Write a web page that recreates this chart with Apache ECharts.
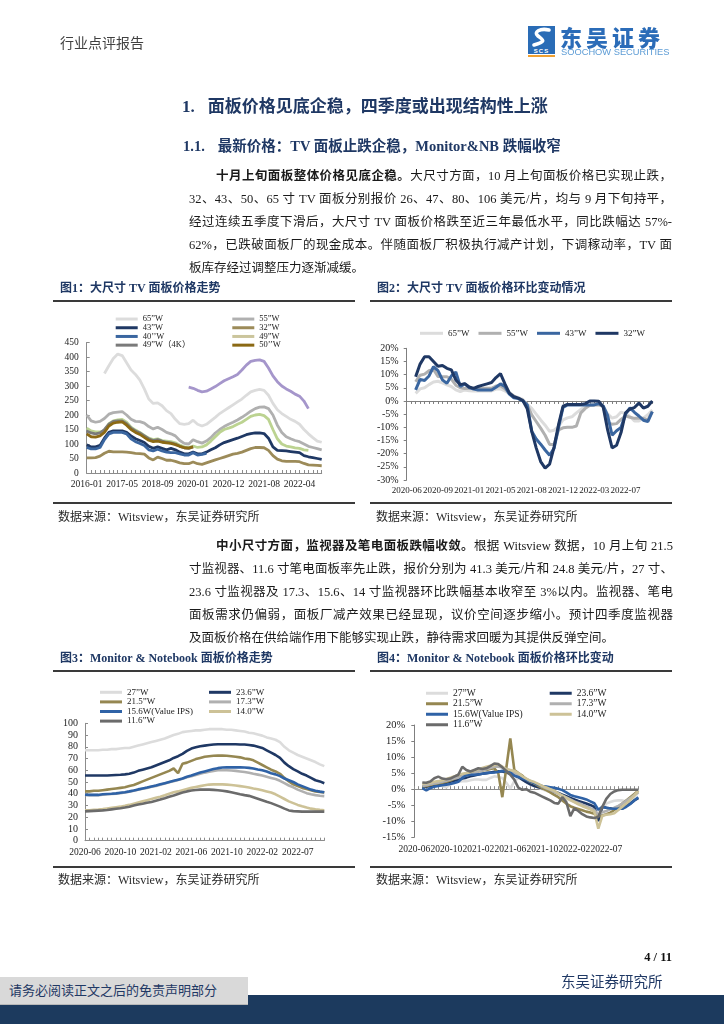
<!DOCTYPE html>
<html>
<head>
<meta charset="utf-8">
<script src="https://cdn.jsdelivr.net/npm/echarts@6.0.0/dist/echarts.min.js"></script>
<style>
html,body{margin:0;padding:0;background:#fff;}
body{width:724px;height:1024px;position:relative;overflow:hidden;font-family:'Liberation Serif','Noto Sans CJK SC',serif;color:#1a1a1a;}
.abs{position:absolute;white-space:nowrap;}
.chart{position:absolute;left:0;top:0;width:724px;height:1024px;}
.ln{position:absolute;height:22.9px;line-height:22.9px;font-size:12.5px;text-align:justify;text-align-last:justify;}
.ln.last{text-align:left;text-align-last:left;}
.rule{position:absolute;height:2px;background:#3a3a3a;}
.figt{position:absolute;white-space:nowrap;font-size:12px;line-height:15px;font-weight:700;color:#1f3864;}
.src{position:absolute;white-space:nowrap;font-size:12px;line-height:14px;color:#2a2a2a;}
b{font-weight:700;}
</style>
</head>
<body>
<div id="c1" class="chart"></div>
<div id="c2" class="chart"></div>
<div id="c3" class="chart"></div>
<div id="c4" class="chart"></div>

<!-- header -->
<div class="abs" style="left:60px;top:35px;font-size:14px;line-height:17px;color:#404040;">行业点评报告</div>
<div class="abs" style="left:528px;top:26px;width:27px;height:22px;background:#2a6cb6;">
  <svg width="27" height="22" viewBox="0 0 27 22"><path d="M21 4 C 12 2, 5 6, 10 10 S 19 15, 6 19" stroke="#fff" stroke-width="3.6" fill="none" stroke-linecap="round"/></svg>
</div>
<div class="abs" style="left:528px;top:48px;width:27px;height:6px;background:#2a6cb6;color:#fff;font-family:'Liberation Sans',sans-serif;font-weight:700;font-size:6px;line-height:6px;text-align:center;letter-spacing:1px;">SCS</div>
<div class="abs" style="left:528px;top:54.5px;width:27px;height:2px;background:#f0a030;"></div>
<div class="abs" style="left:560px;top:24px;font-family:'Noto Sans CJK SC',sans-serif;font-weight:900;font-size:22px;line-height:24px;letter-spacing:4px;color:#2b6cb8;">东吴证券</div>
<div class="abs" style="left:561px;top:47px;font-family:'Liberation Sans',sans-serif;font-size:9.3px;line-height:10px;color:#5b9bd5;">SOOCHOW SECURITIES</div>

<!-- headings -->
<div class="abs" style="left:182px;top:96px;font-size:17px;line-height:21px;font-weight:700;color:#1f3864;">1.<span style="margin-left:13px">面板价格见底企稳，四季度或出现结构性上涨</span></div>
<div class="abs" style="left:183px;top:137px;font-size:14.5px;line-height:18px;font-weight:700;color:#1f3864;">1.1.<span style="margin-left:13px">最新价格：TV 面板止跌企稳，Monitor&amp;NB 跌幅收窄</span></div>

<!-- paragraph 1 -->
<div class="ln" style="left:216px;width:456px;top:165.2px;"><b>十月上旬面板整体价格见底企稳。</b>大尺寸方面，10 月上旬面板价格已实现止跌，</div>
<div class="ln" style="left:189px;width:483px;top:188.1px;">32、43、50、65 寸 TV 面板分别报价 26、47、80、106 美元/片，均与 9 月下旬持平，</div>
<div class="ln" style="left:189px;width:483px;top:211px;">经过连续五季度下滑后，大尺寸 TV 面板价格跌至近三年最低水平，同比跌幅达 57%-</div>
<div class="ln" style="left:189px;width:483px;top:233.9px;">62%，已跌破面板厂的现金成本。伴随面板厂积极执行减产计划，下调稼动率，TV 面</div>
<div class="ln last" style="left:189px;width:483px;top:256.8px;">板库存经过调整压力逐渐减缓。</div>

<!-- figure 1/2 titles -->
<div class="figt" style="left:60px;top:281px;">图1：大尺寸 TV 面板价格走势</div>
<div class="figt" style="left:377px;top:281px;">图2：大尺寸 TV 面板价格环比变动情况</div>
<div class="rule" style="left:52.7px;width:302.3px;top:299.7px;"></div>
<div class="rule" style="left:369.5px;width:302.5px;top:299.7px;"></div>
<div class="rule" style="left:52.7px;width:302.3px;top:502px;"></div>
<div class="rule" style="left:369.5px;width:302.5px;top:502px;"></div>
<div class="src" style="left:58px;top:509.7px;">数据来源：Witsview，东吴证券研究所</div>
<div class="src" style="left:376px;top:509.7px;">数据来源：Witsview，东吴证券研究所</div>

<!-- paragraph 2 -->
<div class="ln" style="left:216px;width:457px;top:535px;"><b>中小尺寸方面，监视器及笔电面板跌幅收敛。</b>根据 Witsview 数据，10 月上旬 21.5</div>
<div class="ln" style="left:189px;width:484px;top:557.9px;">寸监视器、11.6 寸笔电面板率先止跌，报价分别为 41.3 美元/片和 24.8 美元/片，27 寸、</div>
<div class="ln" style="left:189px;width:484px;top:580.8px;">23.6 寸监视器及 17.3、15.6、14 寸监视器环比跌幅基本收窄至 3%以内。监视器、笔电</div>
<div class="ln" style="left:189px;width:484px;top:603.7px;">面板需求仍偏弱，面板厂减产效果已经显现，议价空间逐步缩小。预计四季度监视器</div>
<div class="ln last" style="left:189px;width:484px;top:626.6px;">及面板价格在供给端作用下能够实现止跌，静待需求回暖为其提供反弹空间。</div>

<!-- figure 3/4 titles -->
<div class="figt" style="left:60px;top:650.5px;">图3：Monitor &amp; Notebook 面板价格走势</div>
<div class="figt" style="left:377px;top:650.5px;">图4：Monitor &amp; Notebook 面板价格环比变动</div>
<div class="rule" style="left:52.7px;width:302.3px;top:670px;"></div>
<div class="rule" style="left:369.5px;width:302.5px;top:670px;"></div>
<div class="rule" style="left:52.7px;width:302.3px;top:866px;"></div>
<div class="rule" style="left:369.5px;width:302.5px;top:866px;"></div>
<div class="src" style="left:58px;top:873px;">数据来源：Witsview，东吴证券研究所</div>
<div class="src" style="left:376px;top:873px;">数据来源：Witsview，东吴证券研究所</div>

<!-- footer -->
<div class="abs" style="right:52px;top:949px;font-size:12.5px;line-height:16px;font-weight:700;color:#111;">4 / 11</div>
<div class="abs" style="left:0;top:995px;width:724px;height:29px;background:#1c3a5e;"></div>
<div class="abs" style="left:0;top:977px;width:248px;height:27px;background:#d9d9d9;border-bottom:1px solid #b8b8b8;"></div>
<div class="abs" style="left:9px;top:983px;font-size:13px;line-height:16px;color:#1f3864;">请务必阅读正文之后的免责声明部分</div>
<div class="abs" style="left:561px;top:972.5px;font-size:14.5px;line-height:18px;color:#1f3864;">东吴证券研究所</div>

<script>
// ---------- Figure 1: large-size TV panel prices (US$) ----------
const c1Dates = ['2016-01','2016-03','2016-05','2016-07','2016-09','2016-11','2017-01','2017-03','2017-05','2017-07',
 '2017-09','2017-11','2018-01','2018-03','2018-05','2018-07','2018-09','2018-11','2019-01','2019-03',
 '2019-05','2019-07','2019-09','2019-11','2020-01','2020-03','2020-04','2020-06','2020-07','2020-08',
 '2020-09','2020-11','2020-12','2021-01','2021-02','2021-03','2021-04','2021-05','2021-06','2021-07',
 '2021-08','2021-09','2021-10','2021-11','2021-12','2022-01','2022-02','2022-03','2022-04','2022-05',
 '2022-06','2022-07','2022-08','2022-09'];
const tv65 = [null,null,null,null,343,370,395,410,405,380,355,340,320,290,255,240,242,232,215,205,185,170,168,170,182,168,162,168,180,192,205,215,225,235,245,255,268,280,285,288,285,268,240,218,205,195,185,178,168,150,135,122,110,106];
const tv55 = [200,180,175,178,188,203,208,210,212,200,185,178,177,172,160,152,158,150,140,135,128,112,102,100,115,108,103,110,122,138,150,160,168,175,183,192,202,213,222,227,228,222,200,165,140,125,118,112,108,100,92,88,84,80];
const tv43 = [97,90,90,95,120,140,145,145,145,140,128,118,112,105,92,85,90,85,80,85,80,72,66,66,72,66,66,72,80,87,97,105,110,115,120,126,132,136,138,138,136,120,90,78,77,76,74,72,70,60,56,53,50,47];
const tv32 = [52,52,53,58,68,75,73,73,73,72,70,68,67,65,52,45,55,50,44,44,40,35,32,32,38,32,30,35,40,45,50,55,60,65,68,72,78,84,88,88,87,78,60,48,42,40,40,40,39,33,28,27,26,25];
const tv40 = [88,83,83,88,115,135,140,140,140,135,118,108,102,95,80,76,82,76,72,70,70,66,62,62,70,62,64,68,null,null,null,null,null,null,null,null,null,null,null,null,null,null,null,null,null,null,null,null,null,null,null,null,null,null];
const tv49 = [155,145,142,142,145,170,180,183,185,175,158,148,140,130,120,115,118,112,110,108,104,96,90,88,93,88,90,97,110,125,140,150,155,160,168,175,185,195,200,202,198,185,150,118,100,93,90,87,85,80,78,null,null,null];
const tv49k = [145,138,135,138,150,168,178,180,180,170,155,145,138,128,118,112,115,110,106,104,100,92,87,85,90,null,null,null,null,null,null,null,null,null,null,null,null,null,null,null,null,null,null,null,null,null,null,null,null,null,null,null,null,null];
const tv50 = [135,125,124,128,140,162,172,175,176,165,150,140,133,123,113,108,110,106,104,102,98,92,87,86,90,null,null,null,null,null,null,null,null,null,null,null,null,null,null,null,null,null,null,null,null,null,null,null,null,null,null,null,null,null];
const tvPurple = [null,null,null,null,null,null,null,null,null,null,null,null,null,null,null,null,null,null,null,null,null,null,null,296,292,285,280,282,290,298,308,318,325,332,340,355,372,385,388,390,385,362,335,315,300,290,282,272,265,248,222,null,null,null];

// ---------- Figure 2: TV panel price MoM change (%) ----------
const c2Dates = ['2020-06-01','2020-06-16','2020-07-01','2020-07-16','2020-08-01','2020-08-16','2020-08-24',
 '2020-09-01','2020-09-16','2020-10-01','2020-10-16','2020-11-01','2020-11-16','2020-12-16',
 '2021-01-01','2021-01-16','2021-02-01','2021-02-16','2021-03-16','2021-04-01','2021-04-16',
 '2021-05-01','2021-05-16','2021-06-01','2021-06-16','2021-07-01','2021-07-16','2021-07-24',
 '2021-08-01','2021-08-16','2021-09-01','2021-09-16','2021-10-16','2021-11-01','2021-11-16',
 '2021-12-01','2021-12-16','2022-01-01','2022-01-16','2022-02-01','2022-02-16','2022-02-24',
 '2022-03-01','2022-03-16','2022-04-01','2022-04-16','2022-05-16','2022-06-01','2022-06-16',
 '2022-07-01','2022-07-16','2022-08-01','2022-08-16','2022-09-01','2022-09-16','2022-10-01'];
const mom65 = [null,null,2.9,4.6,5,6.2,7.2,7.5,6.9,6.1,5.5,4.2,3.6,4.2,3.9,3.8,3.8,3.8,3.8,3.8,4.5,4.6,3.8,2.8,1.8,1.3,0.6,-1.3,-2.8,-5,-7.2,-9.2,-11.5,-11.1,-9.7,-7.2,-6.4,-6,-4.5,-3.2,-2.2,-1.7,-1.4,-1.3,-1.9,-4.9,-6.5,-6,-4.2,-4.8,-5.9,-7.6,-7.6,-6.5,-5.2,-3.4];
const mom55 = [null,null,7.3,9.8,10.2,11.5,12,9.3,9.2,9.2,8.3,6,5,4.7,4.8,4.8,4.8,4.8,4.8,4.8,5.7,5.8,4.6,3.1,1.9,1,0.3,-1.5,-5.3,-7.8,-10.3,-13,-16.5,-16.5,-11,-10.2,-10,-10,-9.5,-4.5,-2.8,-1.6,-1.5,-1.5,-2,-8.3,-8.8,-8.6,-7,-5.7,-6.2,-6.6,-6.6,-6.6,-7.2,-4];
const mom43 = [null,null,4.2,8.2,7.8,9.5,13,11.5,8,6.7,9.5,11,5.5,6.5,5.1,4.5,4.2,4.2,4.2,4.2,5.2,6.5,5.5,2.6,1.2,0.9,0,-1.5,-11.5,-14.4,-16.4,-18.6,-20.6,-18,-10,-2.5,-1.5,-1.5,-1.5,-1.5,-1.5,-1.5,-1.5,-1,-1.9,-5.5,-13,-11.3,-10,-5,-2.6,-4.3,-5.7,-7.3,-7.8,-4];
const mom32 = [null,null,9.2,14,16.8,16.8,15,13.2,13.5,12.4,11.8,8,6.2,6.6,5.3,4.8,5.5,6,6.5,7,8.9,10.4,6.5,3,1.6,1.1,0.2,-3,-11.5,-17.8,-23,-25.5,-24,-17.5,-9,-2,-1.3,-1.3,-1.3,-1.3,-1,0,0,-0.1,-2.3,-11,-17.8,-16.8,-12,-4.5,-3,-2.5,-0.8,-2.7,-2,0];

// ---------- Figure 3: Monitor & Notebook panel prices (US$) ----------
const c3Dates = ['2020-06-01','2020-06-16','2020-07-01','2020-07-16','2020-08-01','2020-08-16','2020-09-01','2020-09-16',
 '2020-10-01','2020-10-16','2020-11-01','2020-11-16','2020-12-01','2020-12-16','2021-01-01','2021-01-16',
 '2021-02-01','2021-02-16','2021-03-01','2021-03-16','2021-04-01','2021-04-16','2021-05-01','2021-05-16',
 '2021-06-01','2021-06-16','2021-07-01','2021-07-16','2021-08-01','2021-08-16','2021-09-01','2021-09-16',
 '2021-10-01','2021-10-16','2021-11-01','2021-11-16','2021-12-01','2021-12-16','2022-01-01','2022-01-16',
 '2022-02-01','2022-02-16','2022-03-01','2022-03-16','2022-04-16','2022-05-01','2022-05-16','2022-06-16',
 '2022-07-01','2022-07-16','2022-08-01','2022-08-16','2022-09-01','2022-09-16','2022-10-01'];
const m27 = [77,77,77,77,77.5,77.5,78,78,78.5,79,79,80,81,82,83,84,85,86,87,88.5,90,91,92.5,93,93.5,94,94,94.5,95,95,95,95,94.5,94.5,94,93.5,93,92,91.5,90.5,89.5,88,87,86,84,80,77,75,73,71.5,70,68.5,67,65,63.5];
const m236 = [55.5,55.5,55.5,55.5,55.5,55.5,55.8,56,56.2,56.5,57,58,59.5,60.5,61.5,62.5,64,65.5,67,68.5,70.5,72,74,76.5,78.5,79.5,80.5,81,81.5,82,82.2,82.2,82.2,82.2,82.2,82,82,81.5,81,80,79,77,75,73,70.5,66.5,63.5,61,59,57,55.5,53.5,51.5,50.5,49];
const m215 = [42,42,42.5,42.5,43,43.5,44,44.5,45,45.5,46.5,47.5,49,50.5,52,53.5,55,56.5,58,59.5,61.5,57.5,65.5,66.5,68,69.5,70.5,71.5,72,72.3,72.5,72.5,72.3,72,71.5,71,70,69.5,68.5,66.5,64.5,62.5,60.5,59,57,53.5,50.5,48,46.5,45,44,43,42,41.5,41];
const m173 = [39,38.8,38.8,38.8,39.2,39.5,39.8,40,40.5,41,41.7,42.5,43.4,44.2,45,45.9,46.7,47.7,48.7,49.7,50.7,51.7,52.7,54,55,56,57,58,58.8,59.5,60,60,60,59.8,59.5,59,58.5,57.8,57,56.3,55.5,54.5,53.5,52.5,51,49,47,45.5,43.5,42,40.5,39.5,38.8,38.3,38];
const m156 = [39.2,39,39,39,39.5,39.8,40,40.3,40.8,41.3,42,42.8,43.7,44.5,45.3,46.2,47,48,49,50,51,52,53,54.5,55.5,56.8,58,59,60,61,61.8,62.3,62.5,62.5,62.5,62.5,62.3,62,61.5,60.7,60,59,57.5,56.5,55,53,51.5,50,48,46.5,45,43.5,42.5,41.8,41.2];
const m140 = [26,26,26.3,26.6,27,27.5,28,28.5,29,29.7,30.5,31.5,32.5,33.5,34.5,35.5,36.5,37.5,38.7,40,41.2,42,43,44,45,45.8,46.5,47.2,47.8,48,48,48,47.8,47.5,47,46.5,46,45.3,44.5,43.8,43,42,41,39.5,37.5,35.5,33.5,32,30.5,29.3,28.2,27.3,26.7,26.3,26];
const m116 = [25,25.2,25.4,25.6,25.8,26.2,26.7,27.2,27.7,28.3,29,30,30.8,31.5,32.3,33,34,35,36.2,37.5,38.5,39.8,41,42,42.8,43.2,43.5,43.5,43.5,43.3,43,42.5,42,41.3,40.5,39.5,38.8,38.2,37,35.8,34.5,33.2,32,30.5,29,27.3,25.8,25.2,25,24.8,24.8,24.8,24.8,24.8,24.8];

// ---------- Figure 4: Monitor & Notebook MoM change (%) ----------
const c4Dates = c3Dates.concat(['2022-10-11','2022-10-21']);
const n27 = [null,null,1.3,1,1.5,1.5,1.2,1,0.5,1.5,2,2.3,2.5,2.5,2.8,3,3,2.9,2.9,3.5,4,3.8,3.5,2,0.2,2.5,3.5,3,2.2,1.5,1,0.5,0,-0.5,-1,-1.5,-2,-2.5,-3,-3.5,-4,-4.3,-4.7,-5,-5.5,-6.2,-7,-6,-4.5,-4,-3.6,-3.5,-3.5,-3.8,-4,-2.5,-1];
const n236 = [null,null,0.5,0.8,1,1.3,1.5,1.8,2,2.3,2.6,3,3.3,3.6,4,4.3,4.6,4.8,5,5.2,5.4,5.6,5.5,5.2,4.8,4.3,3.8,3,2.2,1.5,1,0.6,0.3,0,-0.3,-0.7,-1.2,-1.7,-2.2,-2.7,-3.2,-3.7,-4.1,-4.5,-4.9,-5.5,-10,-5.5,-5.8,-6,-6,-6.2,-6,-5.2,-4.5,-3.5,-2.8];
const n215 = [null,null,0.8,1,1.3,1.6,1.8,2,2.3,2.7,3.2,3.8,4.5,4.5,4.8,5,5.5,5.8,6,6.3,6.5,5,-2.5,6.6,15.8,6,5,4.2,3,2.3,1.8,1,0.3,-0.3,-1,-1.8,-2.5,-3.5,-4.5,-5.3,-5.8,-6.2,-6.6,-7,-7.3,-7.7,-8.3,-8.2,-7.8,-7.3,-6.5,-5.5,-4.5,-3.5,-2.5,-1.5,-0.5];
const n173 = [null,null,1,1.2,1.5,1.8,2,2.3,2.6,3,3.3,3.6,4,4.3,4.6,5,5.5,5.8,6.2,6.6,7,7,6.8,6.3,5.8,5,4.3,3.8,3.2,2.6,2,1.5,0.8,0.3,-0.2,-0.8,-1.4,-2,-2.6,-3.2,-3.8,-4.3,-4.8,-5.4,-6,-6.5,-8,-7.2,-6.8,-6.3,-5.8,-5.2,-4.5,-3.6,-2.8,-1.8,-1];
const n156 = [null,null,0.3,-0.4,0.3,0.8,1,1.2,1.4,1.6,1.9,2.3,3.5,4.3,4.5,4.5,4.6,4.8,5,5.1,5.2,5.4,5.7,5.6,5.2,4.2,3.8,3.3,2.9,2.4,1.9,1.4,1,0.8,0.6,0.4,0.1,-0.3,-1,-1.8,-2.2,-2.5,-2.8,-3.2,-3.8,-4.4,-6.4,-5.5,-5.8,-6,-6.1,-6.1,-6.1,-5.5,-4.6,-3.5,-2.5];
const n140 = [null,null,1.7,1.8,2,2.3,2.5,2.8,3.2,3.6,4,4.5,4.8,5,5.3,5.8,6.2,6.6,7,7.3,7.5,7.8,7,6.2,6,5.7,5,4,3.3,2.6,2.2,1.6,1,0.5,0,-0.5,-1.3,-2,-2.7,-3.4,-4,-4.7,-5.3,-5.8,-6.3,-7,-12.3,-8.3,-8,-7.8,-7.5,-6.5,-5.5,-4.5,-3.3,-2,-0.5];
const n116 = [null,null,2.1,2,2.4,3.4,3.9,3.3,3.1,3.3,3.9,4.5,7,6,5.5,6,6.5,6.3,6.5,7.2,8,7.8,6.8,5.7,4.5,3,0.5,-0.2,0,-0.8,-1.1,-1.7,-2.3,-2.9,-3.5,-4.3,-4.5,-2.5,-4,-8.4,-6,-6.8,-7.8,-8.5,-8.8,-9,-8.7,-5.5,-3,-1.5,-0.7,-0.3,-0.2,-0.2,-0.2,-0.2,-0.2];

// ---------- rendering ----------
const SERIF = "'Liberation Serif','Noto Sans CJK SC',serif";
const AX = '#8c8c8c';
function ln(name, data, color, width) {
  return {type:'line', name:name, data:data, color:color, symbol:'none', showSymbol:false,
    lineStyle:{color:color, width:width}, connectNulls:false, silent:true, animation:false};
}
function legendCol(items, left, top, rowH, fs, iw) {
  return {orient:'vertical', left:left, top:top, padding:0, itemGap:0, itemWidth:iw, itemHeight:3,
    icon:'rect', selectedMode:false, data:items,
    textStyle:{fontFamily:SERIF, fontSize:fs, color:'#222', lineHeight:rowH}};
}
function labelStyle(fs, margin, extra) {
  return Object.assign({fontFamily:SERIF, fontSize:fs, color:'#222', margin:margin, hideOverlap:false}, extra || {});
}
function every(step, last) { return function(i){ return i % step === 0 && i <= last; }; }
function ym(v){ return v.slice(0,7); }

// Figure 1
echarts.init(document.getElementById('c1')).setOption({
  animation:false,
  grid:{left:86.7, top:342.5, width:235, height:130.5, containLabel:false, outerBoundsMode:'none'},
  legend:[
    legendCol(['65”W','43”W','40’’W','49”W（4K）'], 115.7, 314.7, 8.7, 8.5, 22),
    legendCol(['55”W','32”W',{name:'49”W', itemStyle:{color:'#cbc59c'}},'50’’W'], 232.3, 314.7, 8.7, 8.5, 22)
  ],
  xAxis:{type:'category', data:c1Dates, boundaryGap:false,
    axisLine:{lineStyle:{color:AX}},
    axisTick:{show:true, inside:true, interval:0, length:3, lineStyle:{color:AX}},
    axisLabel:labelStyle(9.5, 7, {interval:every(8, 48)}),
    splitLine:{show:false}},
  yAxis:{type:'value', min:0, max:450, interval:50,
    axisLine:{show:true, lineStyle:{color:AX}},
    axisTick:{show:true, inside:true, length:3, lineStyle:{color:AX}},
    axisLabel:labelStyle(9.5, 8),
    splitLine:{show:false}},
  series:[
    ln('65”W', tv65, '#dcdcdc', 2.8),
    ln('55”W', tv55, '#b0b0b0', 2.8),
    ln('43”W', tv43, '#1f3864', 2.8),
    ln('32”W', tv32, '#9c8b59', 2.8),
    ln('40’’W', tv40, '#3a66a0', 2.8),
    ln('49”W', tv49, '#bcd391', 2.8),
    ln('49”W（4K）', tv49k, '#7a7a7a', 2.8),
    ln('50’’W', tv50, '#8b6914', 2.8),
    ln('', tvPurple, '#a596cb', 2.8)
  ]
});

// Figure 2
echarts.init(document.getElementById('c2')).setOption({
  animation:false,
  grid:{left:406.7, top:348.3, width:245.6, height:131.7, containLabel:false, outerBoundsMode:'none'},
  legend:{orient:'horizontal', left:420, top:328.8, padding:0, itemGap:9, itemWidth:23, itemHeight:3,
    icon:'rect', selectedMode:false, data:['65”W','55”W','43”W','32”W'],
    textStyle:{fontFamily:SERIF, fontSize:9, color:'#222', lineHeight:9}},
  xAxis:{type:'category', data:c2Dates, boundaryGap:false,
    axisLine:{onZero:true, lineStyle:{color:'#7f7f7f'}},
    axisTick:{show:true, interval:0, length:3, lineStyle:{color:'#7f7f7f'}},
    axisLabel:labelStyle(9, 6, {interval:every(7, 49), formatter:ym}),
    splitLine:{show:false}},
  yAxis:{type:'value', min:-30, max:20, interval:5,
    axisLine:{show:true, lineStyle:{color:'#7f7f7f'}},
    axisTick:{show:true, length:3, lineStyle:{color:'#7f7f7f'}},
    axisLabel:labelStyle(10, 8, {formatter:'{value}%'}),
    splitLine:{show:false}},
  series:[
    ln('65”W', mom65, '#dcdcdc', 3),
    ln('55”W', mom55, '#b0b0b0', 3),
    ln('43”W', mom43, '#3a66a0', 3),
    ln('32”W', mom32, '#1f3864', 3)
  ]
});

// Figure 3
echarts.init(document.getElementById('c3')).setOption({
  animation:false,
  grid:{left:85, top:723.3, width:239.3, height:117.4, containLabel:false, outerBoundsMode:'none'},
  legend:[
    legendCol(['27”W','21.5”W','15.6W(Value IPS)','11.6”W'], 100, 687.5, 9.6, 9, 22),
    legendCol(['23.6”W','17.3”W','14.0”W'], 209, 687.5, 9.6, 9, 22)
  ],
  xAxis:{type:'category', data:c3Dates, boundaryGap:false,
    axisLine:{lineStyle:{color:AX}},
    axisTick:{show:true, inside:true, interval:0, length:3, lineStyle:{color:AX}},
    axisLabel:labelStyle(9.5, 7, {interval:every(8, 48), formatter:ym}),
    splitLine:{show:false}},
  yAxis:{type:'value', min:0, max:100, interval:10,
    axisLine:{show:true, lineStyle:{color:AX}},
    axisTick:{show:true, inside:true, length:3, lineStyle:{color:AX}},
    axisLabel:labelStyle(10, 7),
    splitLine:{show:false}},
  series:[
    ln('27”W', m27, '#dcdcdc', 2.6),
    ln('23.6”W', m236, '#1f3864', 2.6),
    ln('21.5”W', m215, '#958751', 2.6),
    ln('17.3”W', m173, '#b0b0b0', 2.6),
    ln('15.6W(Value IPS)', m156, '#2f62a6', 2.6),
    ln('14.0”W', m140, '#cdc297', 2.6),
    ln('11.6”W', m116, '#6b6b6b', 2.6)
  ]
});

// Figure 4
echarts.init(document.getElementById('c4')).setOption({
  animation:false,
  grid:{left:414.3, top:725, width:224, height:112.3, containLabel:false, outerBoundsMode:'none'},
  legend:[
    legendCol(['27”W','21.5”W','15.6W(Value IPS)','11.6”W'], 426, 688, 10.5, 9.5, 22),
    legendCol(['23.6”W','17.3”W','14.0”W'], 549.7, 688, 10.5, 9.5, 22)
  ],
  xAxis:[
    {type:'category', data:c4Dates, boundaryGap:false, position:'bottom',
      axisLine:{onZero:true, lineStyle:{color:AX}},
      axisTick:{show:true, inside:true, interval:0, length:3, lineStyle:{color:AX}},
      axisLabel:{show:false}, splitLine:{show:false}},
    {type:'category', data:c4Dates, boundaryGap:false, position:'bottom', offset:0,
      axisLine:{show:false, onZero:false}, axisTick:{show:false},
      axisLabel:labelStyle(9.5, 7.5, {interval:every(8, 48), formatter:ym}),
      splitLine:{show:false}}
  ],
  yAxis:{type:'value', min:-15, max:20, interval:5,
    axisLine:{show:true, lineStyle:{color:'#7f7f7f'}},
    axisTick:{show:true, length:3, lineStyle:{color:'#7f7f7f'}},
    axisLabel:labelStyle(10.5, 9, {formatter:'{value}%'}),
    splitLine:{show:false}},
  series:[
    ln('27”W', n27, '#dcdcdc', 2.6),
    ln('23.6”W', n236, '#1f3864', 2.6),
    ln('21.5”W', n215, '#958751', 2.6),
    ln('17.3”W', n173, '#b0b0b0', 2.6),
    ln('15.6W(Value IPS)', n156, '#2f62a6', 2.6),
    ln('14.0”W', n140, '#cdc297', 2.6),
    ln('11.6”W', n116, '#6b6b6b', 2.6)
  ]
});
</script>
</body>
</html>
